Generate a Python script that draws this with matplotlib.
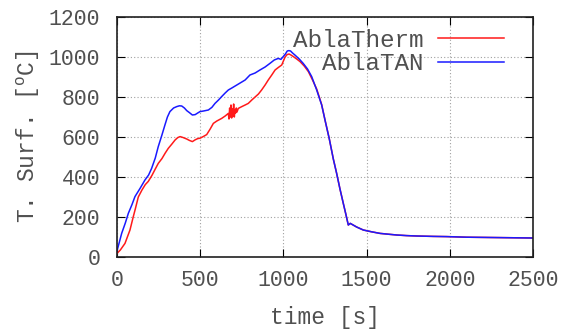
import matplotlib
matplotlib.use("Agg")
import matplotlib.pyplot as plt

# AblaTherm (red)
t_therm = [0, 20, 48, 78, 98, 110, 128, 150, 170, 188, 210, 230, 248, 270, 290, 308,
           330, 349, 365, 379, 395, 419, 435, 453, 470, 485, 499, 520, 539, 560, 579,
           600, 629, 650, 669, 673, 677, 681, 685, 689, 693, 697, 701, 705, 709, 713,
           717, 721, 729, 750, 770, 789, 810, 830, 850, 869, 890, 909, 930, 950, 970,
           990, 1010, 1022, 1034, 1045, 1060, 1080, 1100, 1125, 1150, 1175, 1200, 1230,
           1250, 1276, 1300, 1320, 1340, 1360, 1375, 1390, 1402, 1440, 1480, 1530, 1581,
           1630, 1681, 1740, 1801, 1900, 1981, 2100, 2200, 2300, 2400, 2500]
T_therm = [18, 35, 68, 135, 202, 240, 300, 335, 362, 378, 408, 440, 468, 492, 520, 543,
           565, 585, 597, 602, 598, 590, 583, 577, 586, 592, 594, 603, 612, 640, 668,
           680, 693, 705, 718, 690, 745, 700, 760, 695, 740, 705, 765, 700, 735, 720,
           745, 725, 743, 752, 760, 768, 785, 800, 815, 835, 860, 885, 910, 935, 948,
           960, 1000, 1012, 1015, 1010, 1002, 990, 977, 955, 927, 885, 840, 762,
           685, 590, 490, 418, 340, 268, 215, 160, 168, 150, 135, 126, 118,
           114, 110, 107, 105, 103, 102, 99, 98, 97, 96, 95]

# AblaTAN (blue)
t_tan = [0, 28, 50, 68, 90, 108, 140, 168, 190, 208, 230, 248, 270, 288, 303, 318,
         340, 359, 375, 389, 405, 419, 435, 453, 470, 485, 499, 520, 549, 570, 589,
         610, 629, 650, 669, 690, 710, 740, 770, 799, 830, 859, 890, 919, 945, 969,
         985, 999, 1012, 1023, 1033, 1043, 1055, 1069, 1095, 1119, 1145, 1170, 1200,
         1230, 1250, 1276, 1300, 1320, 1340, 1360, 1375, 1390, 1402, 1440, 1480, 1530,
         1581, 1630, 1681, 1740, 1801, 1900, 1981, 2100, 2200, 2300, 2400, 2500]
T_tan = [30, 118, 170, 218, 262, 302, 345, 385, 410, 443, 495, 552, 610, 660, 700, 727,
         745, 752, 756, 755, 745, 732, 722, 710, 712, 720, 727, 730, 735, 748, 768,
         785, 802, 820, 835, 845, 855, 870, 885, 910, 920, 935, 950, 968, 985, 993,
         988, 1002, 1015, 1030, 1032, 1030, 1020, 1010, 990, 968, 940, 902, 835,
         760, 685, 590, 490, 418, 340, 268, 215, 160, 168, 150, 135, 126,
         118, 114, 110, 107, 105, 103, 102, 99, 98, 97, 96, 95]

x_ticks = [0, 500, 1000, 1500, 2000, 2500]
y_ticks = [0, 200, 400, 600, 800, 1000, 1200]

plt.rcParams['font.family'] = ['Liberation Mono', 'DejaVu Sans Mono']
text_color = '#505050'

fig = plt.figure(figsize=(5.61, 3.33), dpi=100)
ax = fig.add_axes([117/561, (333-257)/333, (533-117)/561, (257-17)/333])

ax.plot(t_therm, T_therm, color='#ff1a1a', lw=1.1, label='AblaTherm')
ax.plot(t_tan, T_tan, color='#1a1aff', lw=1.1, label='AblaTAN')

ax.set_xlim(0, 2500)
ax.set_ylim(0, 1200)
ax.set_xticks(x_ticks)
ax.set_yticks(y_ticks)
ax.grid(True, color='#a0a0a0', linestyle=(0, (1, 2)), linewidth=0.8)
ax.set_axisbelow(True)
ax.tick_params(direction='in', length=6, width=0.8, top=True, right=True,
               labelsize=15.5, colors='black', labelcolor=text_color)
ax.tick_params(axis='y', pad=12)
ax.tick_params(axis='x', pad=9)
for s in ax.spines.values():
    s.set_linewidth(1.2)
    s.set_color('#202020')

ax.set_xlabel('time [s]', fontsize=16.5, color=text_color, labelpad=11)
ax.set_ylabel('T. Surf. [$\\mathregular{^o}$C]', fontsize=16.5, color=text_color, labelpad=5)

leg = ax.legend(loc='upper right', bbox_to_anchor=(0.930, 0.95), markerfirst=False,
                frameon=False, fontsize=17.5, handlelength=2.7, handletextpad=0.6,
                labelspacing=0.02, borderpad=0.0, borderaxespad=0.0)
for t in leg.get_texts():
    t.set_color(text_color)

fig.savefig('out.png', dpi=100)
